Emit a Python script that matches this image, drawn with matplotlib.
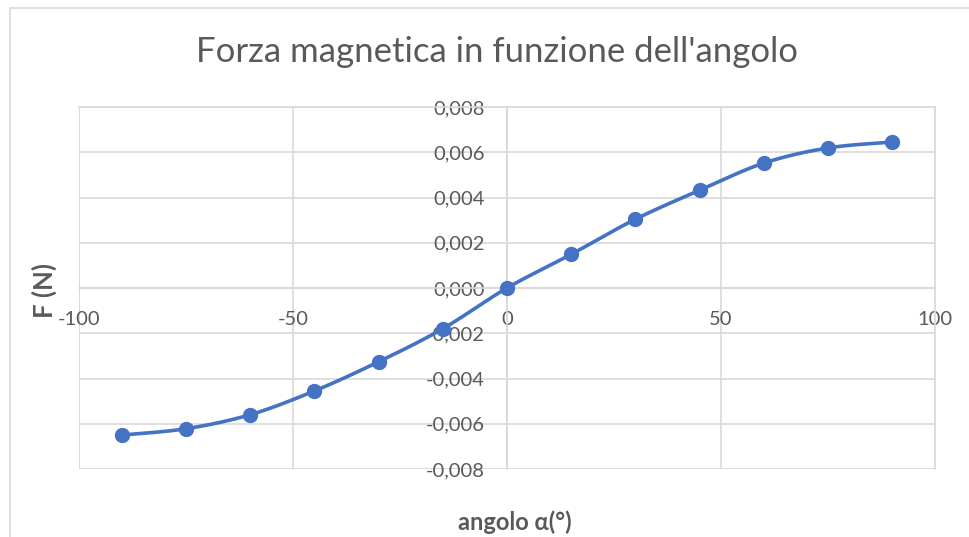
import numpy as np
import matplotlib
matplotlib.use("Agg")
import matplotlib.pyplot as plt
from matplotlib.ticker import FuncFormatter, MultipleLocator

angles = [-90, -75, -60, -45, -30, -15, 0, 15, 30, 45, 60, 75, 90]
forces = [-0.00650, -0.00622, -0.00560, -0.00455, -0.00326, -0.00180, 0.0,
          0.00149, 0.00304, 0.00432, 0.00552, 0.00619, 0.00645]

title = "Forza magnetica in funzione dell'angolo"
xlabel = "angolo α(°)"
ylabel = "F (N)"

plt.rcParams['font.family'] = ['Lato', 'DejaVu Sans']

def smooth(x, y, n=30):
    # Catmull-Rom style Bezier smoothing (similar to Excel smoothed line)
    x = np.asarray(x, float); y = np.asarray(y, float)
    px = np.concatenate([[x[0]], x, [x[-1]]])
    py = np.concatenate([[y[0]], y, [y[-1]]])
    xs, ys = [], []
    t = np.linspace(0, 1, n)
    for i in range(1, len(px) - 2):
        p0 = np.array([px[i], py[i]]); p3 = np.array([px[i+1], py[i+1]])
        c1 = p0 + (np.array([px[i+1], py[i+1]]) - np.array([px[i-1], py[i-1]])) / 6
        c2 = p3 - (np.array([px[i+2], py[i+2]]) - np.array([px[i], py[i]])) / 6
        b = ((1-t)**3)[:, None]*p0 + (3*(1-t)**2*t)[:, None]*c1 + (3*(1-t)*t**2)[:, None]*c2 + (t**3)[:, None]*p3
        xs.extend(b[:, 0]); ys.extend(b[:, 1])
    return np.array(xs), np.array(ys)

fig = plt.figure(figsize=(9.69, 5.37), dpi=100)
# outer chart frame
fig.patches.append(plt.Rectangle((10/969, -0.1), 1.1, 1 - 8/537 + 0.1, transform=fig.transFigure,
                                 fill=False, edgecolor='#d9d9d9', linewidth=1.2))
ax = fig.add_axes([79/969, 1 - 469/537, (935-79)/969, (469-107)/537])

sx, sy = smooth(angles, forces)
ax.plot(sx, sy, color='#4472C4', linewidth=2.6, zorder=3, solid_capstyle='round')
ax.plot(angles, forces, 'o', color='#4472C4', markersize=10, zorder=4)

ax.set_xlim(-100, 100)
ax.set_ylim(-0.008, 0.008)
ax.xaxis.set_major_locator(MultipleLocator(50))
ax.yaxis.set_major_locator(MultipleLocator(0.002))
ax.yaxis.set_major_formatter(FuncFormatter(lambda v, p: f"{v:.3f}".replace('.', ',').replace('-0,000', '0,000')))
ax.xaxis.set_major_formatter(FuncFormatter(lambda v, p: f"{v:.0f}"))
ax.grid(True, color='#d9d9d9', linewidth=1.2, zorder=0)
ax.set_axisbelow(True)

for s in ['top', 'right']:
    ax.spines[s].set_color('#d9d9d9'); ax.spines[s].set_linewidth(1.2)
ax.spines['left'].set_position(('data', 0))
ax.spines['bottom'].set_position(('data', 0))
ax.spines['left'].set_color('#d9d9d9'); ax.spines['bottom'].set_color('#d9d9d9')
ax.spines['left'].set_linewidth(1.2); ax.spines['bottom'].set_linewidth(1.2)
ax.add_patch(plt.Rectangle((0, 0), 1, 1, transform=ax.transAxes, fill=False,
                           edgecolor='#d9d9d9', linewidth=1.2, zorder=0))
ax.tick_params(axis='both', length=0, labelsize=14.5, colors='#595959')
ax.tick_params(axis='y', pad=16)
ax.tick_params(axis='x', pad=16.5)

fig.text(0.513, 1 - 52/537, title, ha='center', va='center', fontsize=25, color='#595959')
fig.text(515/969, 1 - 522/537, xlabel, ha='center', va='center', fontsize=17, color='#595959', fontweight='bold')
fig.text(44/969, 1 - 291/537, ylabel, ha='center', va='center', fontsize=18.5, color='#595959',
         fontweight='bold', rotation=90)

fig.savefig('out.png', dpi=100)
